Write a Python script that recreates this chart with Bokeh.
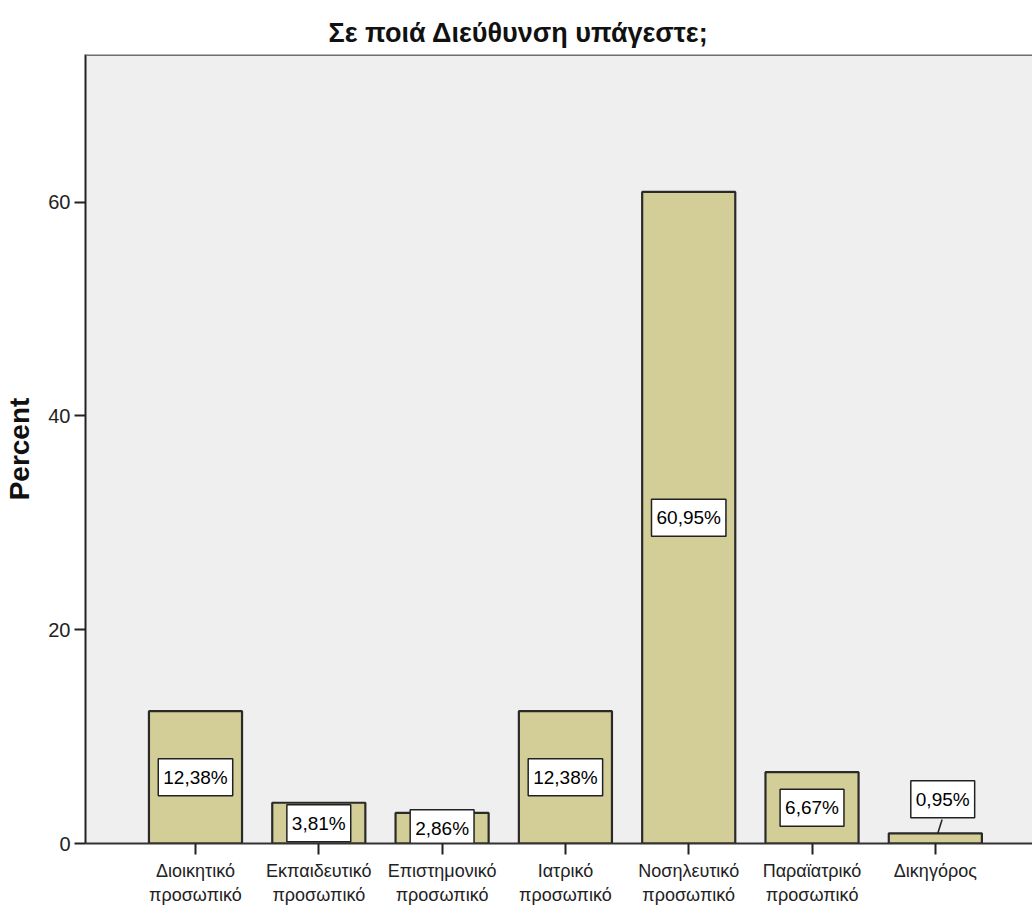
from bokeh.plotting import figure
from bokeh.models import Range1d, FixedTicker, Span, ColumnDataSource
from bokeh.core.properties import value
from bokeh.embed import file_html
from bokeh.resources import INLINE

title_text = "Σε ποιά Διεύθυνση υπάγεστε;"
categories = [
    "Διοικητικό\nπροσωπικό",
    "Εκπαιδευτικό\nπροσωπικό",
    "Επιστημονικό\nπροσωπικό",
    "Ιατρικό\nπροσωπικό",
    "Νοσηλευτικό\nπροσωπικό",
    "Παραϊατρικό\nπροσωπικό",
    "Δικηγόρος",
]
percents = [12.38, 3.81, 2.86, 12.38, 60.95, 6.67, 0.95]
y_ticks = [0, 20, 40, 60]

FONT = "Liberation Sans"
BAR_FILL = "#D3CE97"
BG = "#EFEFEF"
Y_END = 73.8

n = len(categories)
xs = list(range(n))

p = figure(width=1032, height=907, output_backend="svg", toolbar_location=None,
           x_range=Range1d(-0.892, 6.788), y_range=Range1d(0, Y_END),
           min_border_left=85, min_border_right=0, min_border_top=54, min_border_bottom=60)
p.background_fill_color = BG
p.border_fill_color = "white"
p.outline_line_color = None
p.xgrid.visible = False
p.ygrid.visible = False

# title
p.title.text = title_text
p.title.text_font = FONT
p.title.text_font_size = "27px"
p.title.text_font_style = "bold"
p.title.text_color = "#111111"
p.title.align = "left"
p.title.offset = 243
p.title.standoff = 14

src = ColumnDataSource(dict(x=xs, top=percents,
                            labels=[("%.2f%%" % v).replace(".", ",") for v in percents]))
p.vbar(x="x", top="top", bottom=0, width=0.755, source=src,
       fill_color=BAR_FILL, line_color="#2a2a2a", line_width=2.2)

# labels: inside bars at half height, or above bar when the bar is too small
inside = [i for i, v in enumerate(percents) if v >= 2]
outside = [i for i, v in enumerate(percents) if v < 2]
lab_in = ColumnDataSource(dict(x=[xs[i] for i in inside],
                               y=[percents[i] / 2 for i in inside],
                               t=[src.data["labels"][i] for i in inside]))
p.text(x="x", y="y", text="t", source=lab_in, text_align="center", text_baseline="middle",
       text_font=value(FONT), text_font_size="19px", text_color="black",
       background_fill_color="white", border_line_color="#222222", border_line_width=1.5,
       padding=(5, 8))
lab_out = ColumnDataSource(dict(x=[xs[i] + 0.06 for i in outside],
                                y=[percents[i] + 3.2 for i in outside],
                                lx0=[xs[i] + 0.02 for i in outside],
                                ly0=[percents[i] for i in outside],
                                lx1=[xs[i] + 0.055 for i in outside],
                                ly1=[percents[i] + 1.3 for i in outside],
                                t=[src.data["labels"][i] for i in outside]))
p.segment(x0="lx0", y0="ly0", x1="lx1", y1="ly1", source=lab_out, line_color="#222222", line_width=1.5)
p.text(x="x", y="y", text="t", source=lab_out, text_align="center", text_baseline="middle",
       text_font=value(FONT), text_font_size="19px", text_color="black",
       background_fill_color="white", border_line_color="#222222", border_line_width=1.5,
       padding=(5, 8))

# top border of the frame
p.add_layout(Span(location=Y_END, dimension="width", line_color="#707070", line_width=3))

# axes
p.yaxis.ticker = FixedTicker(ticks=y_ticks)
p.yaxis.minor_tick_line_color = None
p.yaxis.major_tick_in = 0
p.yaxis.major_tick_out = 11
p.yaxis.major_tick_line_width = 2
p.yaxis.major_tick_line_color = "#222222"
p.yaxis.axis_line_color = "#222222"
p.yaxis.axis_line_width = 2
p.yaxis.major_label_text_font = FONT
p.yaxis.major_label_text_font_size = "20px"
p.yaxis.major_label_text_color = "#222222"
p.yaxis.major_label_standoff = 4
p.yaxis.axis_label = "Percent"
p.yaxis.axis_label_text_font = FONT
p.yaxis.axis_label_text_font_size = "28px"
p.yaxis.axis_label_text_font_style = "bold"
p.yaxis.axis_label_text_color = "#111111"
p.yaxis.axis_label_standoff = 10

p.xaxis.ticker = FixedTicker(ticks=xs)
p.xaxis.major_label_overrides = {i: c for i, c in zip(xs, categories)}
p.xaxis.minor_tick_line_color = None
p.xaxis.major_tick_in = 0
p.xaxis.major_tick_out = 11
p.xaxis.major_tick_line_width = 2
p.xaxis.major_tick_line_color = "#222222"
p.xaxis.axis_line_color = "#333333"
p.xaxis.axis_line_width = 2
p.xaxis.major_label_text_font = FONT
p.xaxis.major_label_text_font_size = "18px"
p.xaxis.major_label_text_color = "#222222"
p.xaxis.major_label_standoff = 6

open("out.html", "w").write(file_html(p, INLINE))
